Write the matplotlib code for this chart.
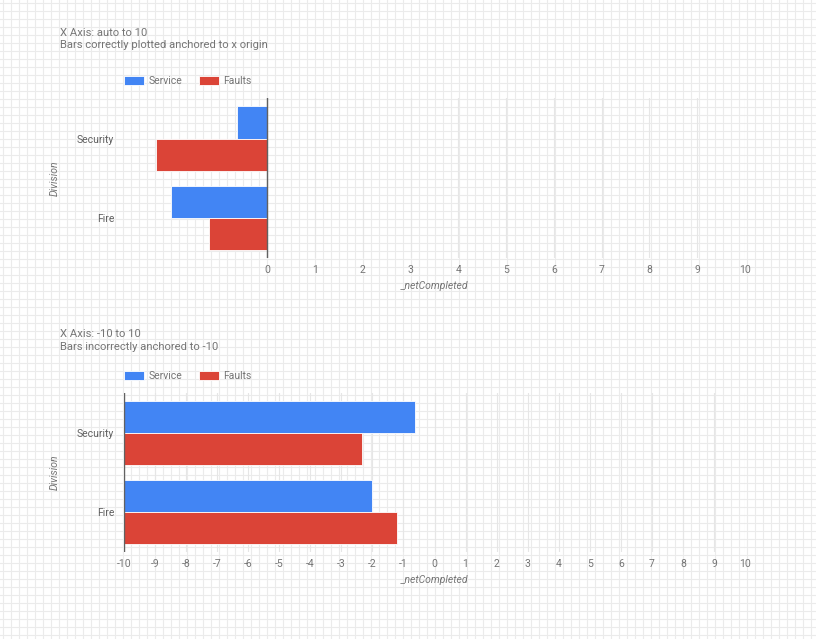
import matplotlib
matplotlib.use("Agg")
import matplotlib.pyplot as plt
import numpy as np

plt.rcParams['font.family'] = ['Roboto', 'DejaVu Sans']

categories = ["Security", "Fire"]
service = [-0.63, -2.01]
faults = [-2.33, -1.22]
series_names = ["Service", "Faults"]
titles_top = ["X Axis: auto to 10", "Bars correctly plotted anchored to x origin"]
titles_bottom = ["X Axis: -10 to 10", "Bars incorrectly anchored to -10"]
top_ticks = list(range(0, 11))
bottom_ticks = list(range(-10, 11))

BLUE = "#4285F4"
RED = "#DB4437"
TXT = "#757575"
W, H = 816, 639

fig = plt.figure(figsize=(W / 100, H / 100), dpi=100)

# background page grid
bg = fig.add_axes([0, 0, 1, 1], zorder=-10)
bg.set_xlim(0, W)
bg.set_ylim(H, 0)
bg.axis("off")
for x in np.arange(3, W, 8):
    bg.axvline(x, color="#ebebeb", lw=0.8)
for y in np.arange(3, H, 8):
    bg.axhline(y, color="#ebebeb", lw=0.8)


def px_axes(left, top, right, bottom):
    return fig.add_axes([left / W, 1 - bottom / H, (right - left) / W, (bottom - top) / H])


def draw(ax, xlim, ticks, anchor, titles, title_y, legend_y):
    ax.set_facecolor("none")
    ypos = np.arange(len(categories))
    h = 0.405
    for vals, off, col, name in [(service, -h / 2, BLUE, series_names[0]),
                                 (faults, h / 2, RED, series_names[1])]:
        vals = np.array(vals)
        ax.barh(ypos + off, vals - anchor, left=anchor, height=h, color=col,
                edgecolor="white", linewidth=0.6, label=name, zorder=3)
    ax.set_xlim(*xlim)
    ax.set_ylim(1.506, -0.512)
    ax.set_xticks(ticks)
    ax.set_xticklabels([str(t) for t in ticks])
    ax.set_yticks(ypos)
    ax.set_yticklabels(categories)
    for t in ticks:
        ax.axvline(t, color="#e6e6e6", lw=0.8, zorder=1)
    ax.axvline(anchor, color="#616161", lw=1.0, zorder=4)
    for s in ax.spines.values():
        s.set_visible(False)
    ax.tick_params(axis="both", length=0, labelsize=7.5, colors=TXT)
    ax.tick_params(axis="x", pad=5)
    ax.tick_params(axis="y", pad=7)
    for lbl in ax.get_yticklabels():
        lbl.set_color("#616161")
    ax.set_xlabel("_netCompleted", fontstyle="italic", fontsize=7.5, color=TXT, labelpad=4.5)
    ax.set_ylabel("Division", fontstyle="italic", fontsize=7.5, color=TXT, labelpad=12.5)
    fig.text(60 / W, 1 - title_y / H, titles[0], fontsize=8.1, color=TXT, va="center", ha="left")
    fig.text(60 / W, 1 - (title_y + 12.5) / H, titles[1], fontsize=8.1, color=TXT, va="center", ha="left")
    leg = ax.legend(loc="center left", bbox_to_anchor=(124 / W, 1 - legend_y / H),
                    bbox_transform=fig.transFigure, ncol=2, frameon=False, fontsize=7.5,
                    handlelength=1.9, handleheight=1.0, handletextpad=0.45,
                    columnspacing=1.6, borderpad=0, borderaxespad=0)
    for t in leg.get_texts():
        t.set_color(TXT)


ax1 = px_axes(124, 98, 745, 258)
draw(ax1, (-3.0, 10.0), top_ticks, 0, titles_top, 33, 81)

ax2 = px_axes(124, 393, 745, 552)
draw(ax2, (-10, 10), bottom_ticks, -10, titles_bottom, 334, 376)

fig.savefig("out.png", dpi=100)
